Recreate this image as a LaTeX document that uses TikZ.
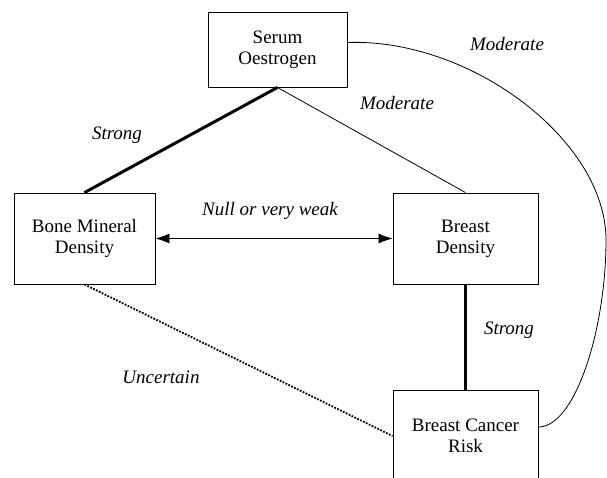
\documentclass[tikz,border=0pt]{standalone}
\usepackage{fontspec}
\setmainfont{Liberation Serif}[ItalicFont={Liberation Serif Italic}]
\usetikzlibrary{arrows.meta,positioning}

\begin{document}
\begin{tikzpicture}[x=1pt, y=-1pt,
  box/.style={rectangle, draw, line width=0.9pt, inner sep=0pt, align=center,
    font=\fontsize{19}{21}\selectfont},
  lbl/.style={font=\fontsize{19}{21}\selectfont\itshape, inner sep=0pt},
  thin link/.style={line width=0.8pt},
  thick link/.style={line width=3pt}]
\useasboundingbox (0,0) rectangle (607,477);

\node[box, minimum width=139pt, minimum height=75pt] (serum) at (277.5,49.5) {Serum\\Oestrogen};
\node[box, minimum width=141pt, minimum height=91pt] (bone) at (84.5,238.5) {Bone Mineral\\Density};
\node[box, minimum width=145pt, minimum height=91pt] (dens) at (465.5,238.5) {Breast\\Density};
\node[box, minimum width=145pt, minimum height=91pt] (risk) at (465.5,436) {Breast Cancer\\Risk};

\node[lbl] (l1) at (117,135) {Strong};
\node[lbl] (l2) at (397,103) {Moderate};
\node[lbl] (l3) at (507,44) {Moderate};
\node[lbl] (l4) at (270,211) {Null or very weak};
\node[lbl] (l5) at (509,330) {Strong};
\node[lbl] (l6) at (161,377) {Uncertain};

\draw[thick link] (bone.north) -- (serum.south);
\draw[thin link] (serum.south) -- (dens.north);
\draw[thin link, {Latex[length=14pt,width=10pt]}-{Latex[length=14pt,width=10pt]}] (bone.east) -- (dens.west);
\draw[thick link] (dens.south) -- (risk.north);
\draw[line width=1.8pt, dash pattern=on 1.8pt off 1.4pt] (bone.south) -- (risk.west);
\draw[thin link] ([yshift=7pt]serum.east) .. controls (470,38) and (606,140) .. (606,240)
  .. controls (606,330) and (575,427) .. ([yshift=9pt]risk.east);
\end{tikzpicture}
\end{document}
